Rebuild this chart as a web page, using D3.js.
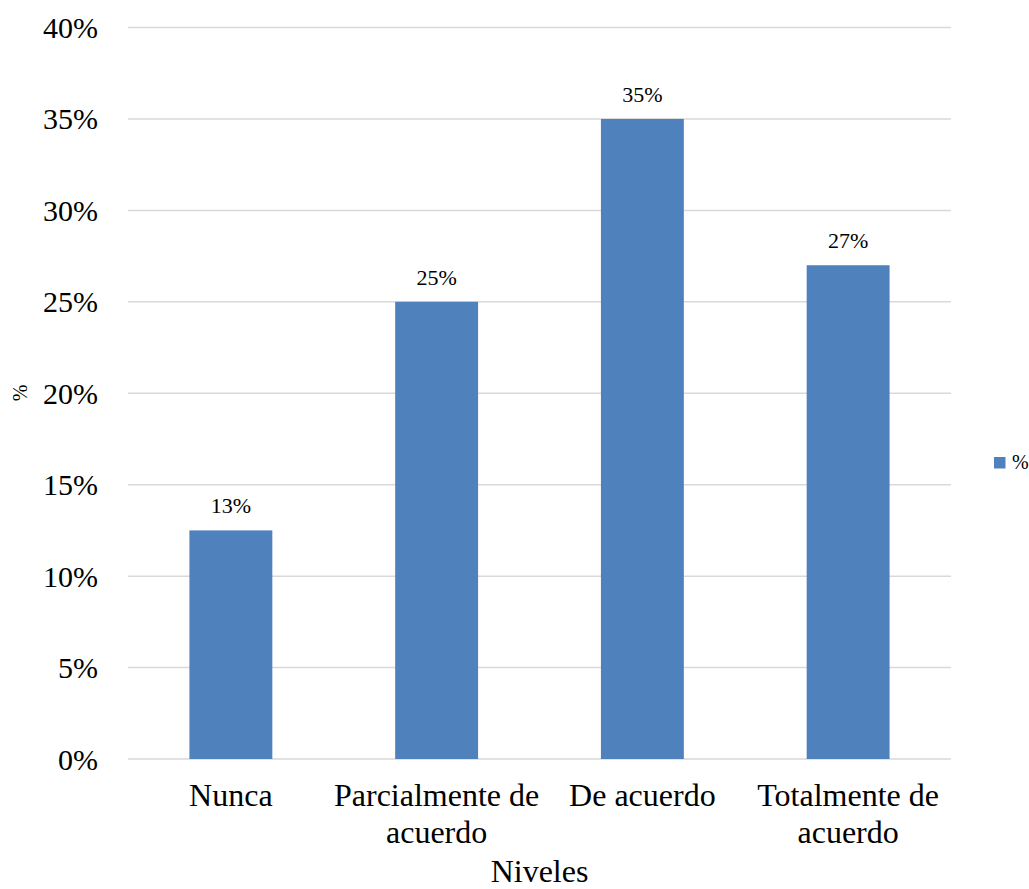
<!DOCTYPE html>
<html>
<head>
<meta charset="utf-8">
<script src="https://cdn.jsdelivr.net/npm/d3@7"></script>
</head>
<body style="margin:0;background:#ffffff">
<svg id="fig" width="1029" height="889" font-family="Times New Roman, Liberation Serif, Tinos, serif"></svg>
<script>
// Niveles de respuesta y su porcentaje
const categories = ["Nunca", "Parcialmente de acuerdo", "De acuerdo", "Totalmente de acuerdo"];
const values = [0.125, 0.25, 0.35, 0.27];
const yTicks = [0, 0.05, 0.10, 0.15, 0.20, 0.25, 0.30, 0.35, 0.40];
const seriesName = "%";
const xTitle = "Niveles";
const yTitle = "%";

const serif = "\"Times New Roman\", \"Liberation Serif\", Tinos, serif";
const svg = d3.select("#fig");
const plot = { left: 128, right: 951, top: 27.5, bottom: 759 };
const barColor = "#4f81bd";
const gridColor = "#d9d9d9";

// set the serif face on every label
function face(sel) {
  sel.attr("font-family", serif).style("font-family", serif);
  return sel;
}

const x = d3.scaleBand()
  .domain(categories)
  .range([plot.left, plot.right])
  .paddingInner(0.597)
  .paddingOuter(0.2985);

const y = d3.scaleLinear()
  .domain([0, 0.40])
  .range([plot.bottom, plot.top]);

const pct = d3.format(".0%");

// horizontal gridlines
svg.append("g")
  .selectAll("line")
  .data(yTicks)
  .join("line")
  .attr("x1", plot.left)
  .attr("x2", plot.right)
  .attr("y1", d => y(d))
  .attr("y2", d => y(d))
  .attr("stroke", gridColor)
  .attr("stroke-width", 1.5);

// y-axis tick labels
svg.append("g")
  .selectAll("text")
  .data(yTicks)
  .join("text")
  .call(face)
  .attr("x", 98)
  .attr("y", d => y(d))
  .attr("dy", "0.35em")
  .attr("text-anchor", "end")
  .attr("font-size", 30)
  .text(d => pct(d));

// bars
svg.append("g")
  .selectAll("rect")
  .data(values)
  .join("rect")
  .attr("x", (d, i) => x(categories[i]))
  .attr("width", x.bandwidth())
  .attr("y", d => y(d))
  .attr("height", d => y(0) - y(d))
  .attr("fill", barColor);

// value labels
svg.append("g")
  .selectAll("text")
  .data(values)
  .join("text")
  .call(face)
  .attr("x", (d, i) => x(categories[i]) + x.bandwidth() / 2)
  .attr("y", d => y(d) - 17)
  .attr("text-anchor", "middle")
  .attr("font-size", 22)
  .text(d => pct(d));

// category labels, wrapped to the band width
const catG = svg.append("g");
categories.forEach(c => {
  const cx = x(c) + x.bandwidth() / 2;
  const t = catG.append("text")
    .call(face)
    .attr("x", cx)
    .attr("y", 806)
    .attr("text-anchor", "middle")
    .attr("font-size", 32);
  const words = c.split(" ");
  const maxW = x.step();
  let line = [];
  let tspan = t.append("tspan").call(face).attr("x", cx).attr("dy", 0);
  words.forEach(w => {
    line.push(w);
    tspan.text(line.join(" "));
    if (tspan.node().getComputedTextLength() > maxW && line.length > 1) {
      line.pop();
      tspan.text(line.join(" "));
      line = [w];
      tspan = t.append("tspan")
        .call(face)
        .attr("x", cx)
        .attr("dy", 37)
        .text(w);
    }
  });
});

// axis titles
svg.append("text")
  .call(face)
  .attr("x", (plot.left + plot.right) / 2)
  .attr("y", 882)
  .attr("text-anchor", "middle")
  .attr("font-size", 32)
  .text(xTitle);

svg.append("text")
  .call(face)
  .attr("transform", "translate(27,393) rotate(-90)")
  .attr("text-anchor", "middle")
  .attr("font-size", 20)
  .text(yTitle);

// legend
const legend = svg.append("g").attr("transform", "translate(994,457)");
legend.append("rect")
  .attr("width", 11.5)
  .attr("height", 11.5)
  .attr("fill", barColor);
legend.append("text")
  .call(face)
  .attr("x", 18)
  .attr("y", 12)
  .attr("font-size", 20)
  .text(seriesName);
</script>
</body>
</html>
